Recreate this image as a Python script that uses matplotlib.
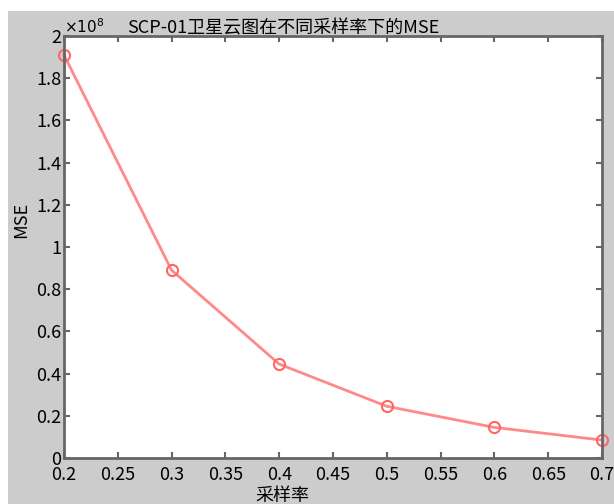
import matplotlib.pyplot as plt
from matplotlib.patches import Rectangle

plt.rcParams['font.family'] = ['Noto Sans CJK SC', 'DejaVu Sans']

rate = [0.2, 0.3, 0.4, 0.5, 0.6, 0.7]
mse = [1.91, 0.89, 0.445, 0.245, 0.145, 0.085]   # x 1e8
xticks = [0.2, 0.25, 0.3, 0.35, 0.4, 0.45, 0.5, 0.55, 0.6, 0.65, 0.7]
yticks = [0, 0.2, 0.4, 0.6, 0.8, 1, 1.2, 1.4, 1.6, 1.8, 2]

W, H = 614, 504
fig = plt.figure(figsize=(W / 100, H / 100), dpi=100)
fig.patch.set_facecolor('white')
fig.add_artist(Rectangle((8 / W, 0), 1 - 8 / W, 1 - 11 / H, transform=fig.transFigure,
                         facecolor='#cccccc', edgecolor='none', zorder=-10))

ax = fig.add_axes([64 / W, 1 - 458 / H, (602 - 64) / W, (458 - 36) / H])
ax.set_facecolor('white')
ax.plot(rate, mse, color='#ff8888', lw=2, marker='o', ms=8, mfc='none',
        mec='#ff6666', mew=1.5, clip_on=False)

ax.set_xlim(0.2, 0.7)
ax.set_ylim(0, 2)
ax.set_xticks(xticks)
ax.set_xticklabels([f'{v:g}' for v in xticks])
ax.set_yticks(yticks)
ax.set_yticklabels([f'{v:g}' for v in yticks])
ax.tick_params(direction='in', length=4, width=1.5, color='#666666',
               labelsize=13, top=True, right=True)
ax.tick_params(axis='x', pad=6)
ax.tick_params(axis='y', pad=2)
for s in ax.spines.values():
    s.set_color('#666666')
    s.set_linewidth(2)

ax.set_title('SCP-01卫星云图在不同采样率下的MSE', fontsize=13, pad=2, x=0.407)
ax.set_xlabel('采样率', fontsize=13)
ax.xaxis.set_label_coords(0.405, -0.068)
ax.set_ylabel('MSE', fontsize=13, labelpad=4)
ax.yaxis.label.set_y(0.564)
ax.text(0.0, 1.0, r'$\times10^8$', transform=ax.transAxes, fontsize=11,
        ha='left', va='bottom', family='DejaVu Sans')

fig.savefig('out.png', dpi=100)
